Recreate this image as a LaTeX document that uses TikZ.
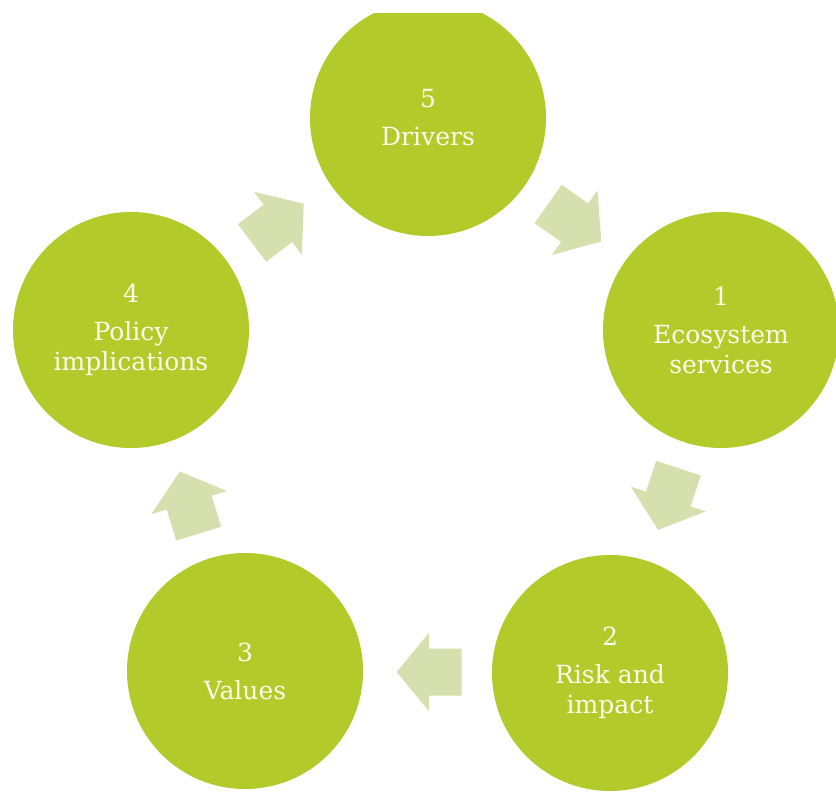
\documentclass[tikz,border=0pt]{standalone}
\usepackage{fontspec}
\setmainfont{DejaVu Serif}
\definecolor{leaf}{RGB}{178,203,42}
\definecolor{pale}{RGB}{213,224,174}
\definecolor{cream}{RGB}{252,252,236}
\begin{document}
\begin{tikzpicture}[x=1pt,y=-1pt,
  stage/.style={circle,fill=leaf,minimum size=236pt,inner sep=0pt,
    text=cream,align=center,font=\fontsize{25}{30}\selectfont},
  cyclearrow/.pic={\fill[pale] (32.5,0) -- (0,-39.5) -- (0,-23.5) -- (-32.5,-23.5)
    -- (-32.5,23.5) -- (0,23.5) -- (0,39.5) -- cycle;}]
\useasboundingbox (0,0) rectangle (836,798);
\clip (0,13) rectangle (836,798);

% the five stages of the cycle
\node[stage] (drivers)   at (428,118) {5\\[8pt]Drivers};
\node[stage] (ecosystem) at (721,330) {1\\[8pt]Ecosystem\\services};
\node[stage] (risk)      at (610,673) {2\\[8pt]Risk and\\impact};
\node[stage] (values)    at (245,671) {3\\[8pt]Values};
\node[stage] (policy)    at (131,330) {4\\[8pt]Policy\\implications};

% block arrows running clockwise between the stages
\pic[rotate=-35.1]  at (574.7,222.7) {cyclearrow};
\pic[rotate=-108.3] at (668.3,499)   {cyclearrow};
\pic[rotate=180]    at (429.2,672)   {cyclearrow};
\pic[rotate=107]    at (189.2,502.6) {cyclearrow};
\pic[rotate=37.2]   at (277.9,223.3) {cyclearrow};
\end{tikzpicture}
\end{document}
